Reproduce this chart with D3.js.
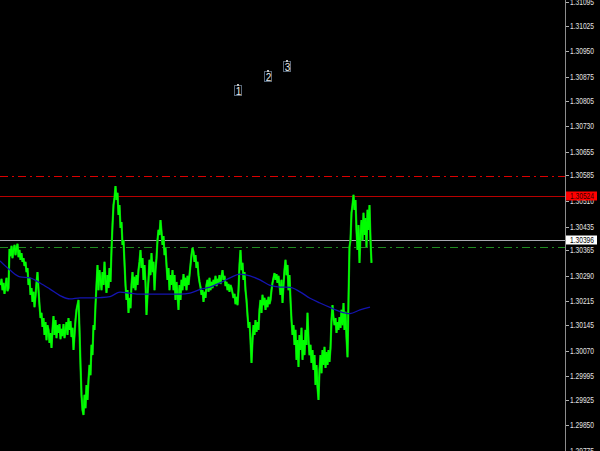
<!DOCTYPE html>
<html><head><meta charset="utf-8">
<script src="https://cdn.jsdelivr.net/npm/d3@7"></script>
<style>html,body{margin:0;padding:0;background:#000;overflow:hidden}svg{display:block}</style>
</head><body>
<svg id="c" width="600" height="451"></svg>
<script>
// ---- data ----
const tickLabels = ["1.31095","1.31025","1.30950","1.30875","1.30805","1.30730","1.30655","1.30585","1.30510","1.30435","1.30365","1.30290","1.30215","1.30145","1.30070","1.29995","1.29925","1.29850","1.29775"];
const priceSeries = [
1.30263,1.30281,1.30248,1.30269,1.30237,1.30260,1.30284,1.30245,1.30254,1.30369,
1.30348,1.30378,1.30342,1.30366,1.30381,1.30351,1.30372,1.30384,1.30345,1.30366,
1.30337,1.30357,1.30331,1.30342,1.30319,1.30331,1.30301,1.30313,1.30263,1.30284,
1.30234,1.30254,1.30213,1.30243,1.30198,1.30231,1.30269,1.30301,1.30248,1.30204,
1.30166,1.30181,1.30140,1.30166,1.30116,1.30154,1.30101,1.30145,1.30131,1.30093,
1.30122,1.30078,1.30131,1.30172,1.30116,1.30160,1.30107,1.30145,1.30122,1.30148,
1.30104,1.30134,1.30113,1.30148,1.30107,1.30131,1.30154,1.30116,1.30166,1.30131,
1.30157,1.30110,1.30137,1.30072,1.30116,1.30160,1.30190,1.30204,1.30219,1.30131,
1.30028,1.29940,1.29896,1.29881,1.29940,1.29901,1.29969,1.29925,1.29984,1.30028,
1.29998,1.30087,1.30057,1.30145,1.30131,1.30204,1.30263,1.30322,1.30248,1.30307,
1.30278,1.30248,1.30301,1.30263,1.30331,1.30278,1.30240,1.30292,1.30254,1.30313,
1.30272,1.30366,1.30439,1.30498,1.30519,1.30554,1.30513,1.30534,1.30469,1.30498,
1.30431,1.30448,1.30381,1.30395,1.30328,1.30263,1.30219,1.30248,1.30181,1.30225,
1.30195,1.30263,1.30301,1.30254,1.30287,1.30248,1.30292,1.30263,1.30307,1.30331,
1.30366,1.30313,1.30342,1.30278,1.30322,1.30269,1.30175,1.30234,1.30278,1.30337,
1.30292,1.30357,1.30301,1.30331,1.30248,1.30307,1.30342,1.30395,1.30425,1.30410,
1.30454,1.30419,1.30381,1.30407,1.30351,1.30372,1.30322,1.30278,1.30313,1.30248,
1.30292,1.30263,1.30307,1.30248,1.30292,1.30219,1.30272,1.30234,1.30190,1.30263,
1.30219,1.30278,1.30248,1.30295,1.30260,1.30284,1.30248,1.30290,1.30263,1.30292,
1.30322,1.30351,1.30372,1.30360,1.30331,1.30351,1.30313,1.30331,1.30292,1.30272,
1.30257,1.30234,1.30248,1.30213,1.30243,1.30225,1.30263,1.30278,1.30243,1.30284,
1.30248,1.30272,1.30254,1.30278,1.30263,1.30290,1.30260,1.30281,1.30269,1.30292,
1.30266,1.30287,1.30307,1.30278,1.30290,1.30260,1.30272,1.30248,1.30266,1.30243,
1.30263,1.30254,1.30240,1.30225,1.30237,1.30207,1.30228,1.30204,1.30248,1.30322,
1.30366,1.30307,1.30328,1.30278,1.30301,1.30248,1.30219,1.30175,1.30137,1.30154,
1.30101,1.30034,1.30101,1.30145,1.30116,1.30160,1.30125,1.30154,1.30131,1.30190,
1.30219,1.30181,1.30234,1.30204,1.30225,1.30190,1.30219,1.30198,1.30228,1.30207,
1.30219,1.30248,1.30269,1.30284,1.30298,1.30278,1.30295,1.30269,1.30290,1.30263,
1.30234,1.30278,1.30210,1.30263,1.30307,1.30337,1.30292,1.30322,1.30248,1.30292,
1.30219,1.30160,1.30116,1.30145,1.30087,1.30131,1.30043,1.30101,1.30022,1.30116,
1.30072,1.30137,1.30043,1.30101,1.30057,1.30131,1.30087,1.30181,1.30101,1.30057,
1.30087,1.30034,1.30072,1.30013,1.30057,1.29969,1.30028,1.29963,1.29925,1.30013,
1.30057,1.30004,1.30072,1.30028,1.30081,1.30019,1.30066,1.30028,1.30072,1.30037,
1.30078,1.30160,1.30204,1.30166,1.30145,1.30166,1.30122,1.30154,1.30131,1.30169,
1.30137,1.30190,1.30145,1.30210,1.30131,1.30184,1.30110,1.30051,1.30219,1.30375,
1.30395,1.30475,1.30498,1.30528,1.30484,1.30513,1.30425,1.30366,1.30439,1.30328,
1.30410,1.30454,1.30395,1.30475,1.30410,1.30460,1.30375,1.30484,1.30425,1.30498,
1.30395,1.30328
];
const maStep = 10;
const maValues = [1.30334,1.30307,1.30287,1.30284,1.30269,1.30251,1.30232,1.30222,1.30225,1.30225,
1.30226,1.30229,1.30242,1.30239,1.30236,1.30236,1.30236,1.30236,1.30236,1.30239,
1.30250,1.30257,1.30269,1.30284,1.30295,1.30290,1.30278,1.30262,1.30257,1.30256,
1.30243,1.30224,1.30210,1.30197,1.30185,1.30179,1.30190,1.30198];
const levelPrices = [1.30584, 1.30524, 1.30396, 1.30375];
const levelNames = ["resDash","bid","ask","supDash"];
const markerText = ["1","2","3"];
const markerIndex = [237.5, 268, 287];
const markerPrice = [1.30834, 1.30875, 1.30904];
const priceMin = 1.29775, priceMax = 1.31095;

// ---- scales ----
const W = 600, H = 451, axisX = 565;
const svg = d3.select("#c");
svg.append("rect").attr("width", W).attr("height", H).attr("fill", "#000");
const y = d3.scaleLinear().domain([priceMin, priceMax]).range([451, 2]);
const x = d3.scaleLinear().domain([0, priceSeries.length - 1]).range([0, priceSeries.length - 1]);

// levels
const levelStyle = {
  resDash: {c: "#dc0000", d: "8,4,2,4"},
  bid: {c: "#b80000", d: null},
  ask: {c: "#a8a8b0", d: null},
  supDash: {c: "#1f8a1f", d: "8,4,2,4"}
};
levelPrices.forEach((p, i) => {
  const s = levelStyle[levelNames[i]];
  const l = svg.append("line").attr("x1", 0).attr("x2", axisX)
    .attr("y1", Math.round(y(p)) + 0.5).attr("y2", Math.round(y(p)) + 0.5)
    .attr("stroke", s.c).attr("stroke-width", 1);
  if (s.d) l.attr("stroke-dasharray", s.d);
});

// price line
const line = d3.line().x((d, i) => x(i) + 0.5).y(d => y(d));
svg.append("path").datum(priceSeries).attr("d", line)
  .attr("fill", "none").attr("stroke", "#10a010").attr("stroke-width", 2.2)
  .attr("stroke-linejoin", "miter");
svg.append("path").datum(priceSeries).attr("d", line)
  .attr("fill", "none").attr("stroke", "#00ff00").attr("stroke-width", 1.5)
  .attr("stroke-linejoin", "miter");

// moving average
const maLine = d3.line().x((d, i) => x(i * maStep)).y(d => y(d)).curve(d3.curveMonotoneX);
svg.append("path").datum(maValues).attr("d", maLine)
  .attr("fill", "none").attr("stroke", "#1414b0").attr("stroke-width", 1.3);

// markers
markerText.forEach((t, i) => {
  const cx = x(markerIndex[i]), cy = y(markerPrice[i]);
  const g = svg.append("g");
  g.append("rect").attr("x", Math.round(cx) - 3.5).attr("y", Math.round(cy) - 5.5)
    .attr("width", 7).attr("height", 10).attr("fill", "none").attr("stroke", "#5a6878").attr("stroke-width", 1);
  g.append("rect").attr("x", Math.round(cx) - 1).attr("y", Math.round(cy) - 7)
    .attr("width", 2).attr("height", 2).attr("fill", "#c0c0c0");
  g.append("text").attr("x", Math.round(cx) + 0.5).attr("y", Math.round(cy) + 3.5)
    .attr("text-anchor", "middle").attr("fill", "#e8e8e8")
    .attr("font-family", "Liberation Sans, Arial, sans-serif").attr("font-size", 10).text(t);
});

// axis
svg.append("line").attr("x1", axisX + 0.5).attr("x2", axisX + 0.5).attr("y1", 0).attr("y2", H)
  .attr("stroke", "#8c8c8c").attr("stroke-width", 1);
tickLabels.forEach(lbl => {
  const ty = Math.round(y(+lbl)) + 0.5;
  svg.append("line").attr("x1", axisX + 1).attr("x2", axisX + 4).attr("y1", ty).attr("y2", ty)
    .attr("stroke", "#b0b0b0");
  svg.append("text").attr("x", 570).attr("y", ty).attr("dy", "0.35em")
    .attr("fill", "#e4e4e4").attr("font-family", "Liberation Sans, Arial, sans-serif")
    .attr("font-size", 8.5).attr("textLength", 24).attr("lengthAdjust", "spacingAndGlyphs").text(lbl);
});

// price boxes
const boxes = [{p: levelPrices[1], fill: "#ff0000", tc: "#300000"}, {p: levelPrices[2], fill: "#ffffff", tc: "#000000"}];
boxes.forEach(b => {
  const by = y(b.p);
  svg.append("rect").attr("x", 566).attr("y", Math.round(by) - 4.5).attr("width", 31).attr("height", 9)
    .attr("fill", b.fill);
  svg.append("text").attr("x", 570).attr("y", Math.round(by) + 0.5).attr("dy", "0.35em")
    .attr("fill", b.tc).attr("font-family", "Liberation Sans, Arial, sans-serif")
    .attr("font-size", 8.5).attr("textLength", 24).attr("lengthAdjust", "spacingAndGlyphs")
    .text(b.p.toFixed(5));
});
</script>
</body></html>
